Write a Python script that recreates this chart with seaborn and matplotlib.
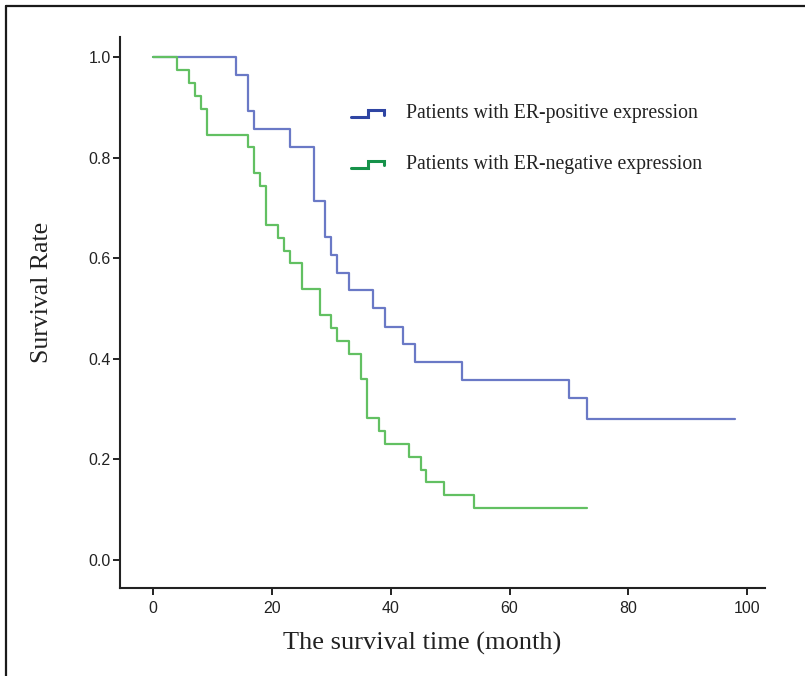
import numpy as np
import pandas as pd
import matplotlib
matplotlib.use("Agg")
import matplotlib.pyplot as plt
from matplotlib.lines import Line2D
from matplotlib.legend_handler import HandlerBase
import seaborn as sns

# ---- data ----
pos_time = [0, 14, 16, 17, 23, 27, 29, 30, 31, 33, 37, 39, 42, 44, 52, 70, 73, 98]
pos_surv = [1.0, 0.964, 0.893, 0.857, 0.821, 0.714, 0.643, 0.607, 0.571, 0.536,
            0.500, 0.464, 0.429, 0.393, 0.357, 0.321, 0.280, 0.280]

neg_time = [0, 4, 6, 7, 8, 9, 16, 17, 18, 19, 21, 22, 23, 25, 28, 30, 31, 33,
            35, 36, 38, 39, 43, 45, 46, 49, 54, 73]
neg_surv = [1.0, 0.974, 0.949, 0.923, 0.897, 0.846, 0.821, 0.769, 0.744, 0.667,
            0.641, 0.615, 0.590, 0.538, 0.487, 0.462, 0.436, 0.410, 0.359, 0.282,
            0.256, 0.231, 0.205, 0.179, 0.154, 0.128, 0.103, 0.103]

groups = ["Patients with ER-positive expression", "Patients with ER-negative expression"]
x_ticks = [0, 20, 40, 60, 80, 100]
y_ticks = [0.0, 0.2, 0.4, 0.6, 0.8, 1.0]

line_colors = {groups[0]: "#6a79c6", groups[1]: "#62c062"}
legend_colors = {groups[0]: "#2f45a3", groups[1]: "#16924a"}

df = pd.concat([
    pd.DataFrame({"time": pos_time, "surv": pos_surv, "group": groups[0]}),
    pd.DataFrame({"time": neg_time, "surv": neg_surv, "group": groups[1]}),
])

# ---- style ----
sns.set_style("ticks")
plt.rcParams["font.family"] = ["Liberation Sans", "DejaVu Sans"]


class StepHandler(HandlerBase):
    # little step glyph like the SPSS legend
    def create_artists(self, legend, orig_handle, xdescent, ydescent,
                       width, height, fontsize, trans):
        x0 = -xdescent
        y0 = -ydescent + height * 0.05
        h = height * 0.5
        xs = [x0, x0 + width * 0.5, x0 + width * 0.5, x0 + width, x0 + width]
        ys = [y0, y0, y0 + h, y0 + h, y0 + h * 0.35]
        ln = Line2D(xs, ys, color=orig_handle.get_color(), lw=2.2,
                    solid_joinstyle="miter", transform=trans)
        return [ln]


fig = plt.figure(figsize=(8.05, 6.76), dpi=100)
ax = fig.add_axes([120 / 805, 1 - 588 / 676, 645 / 805, 551 / 676])

sns.lineplot(data=df, x="time", y="surv", hue="group", palette=line_colors,
             estimator=None, drawstyle="steps-post", linewidth=1.6,
             legend=False, ax=ax)

ax.set_xlim(-5.6, 103)
ax.set_ylim(-0.056, 1.04)
ax.set_xticks(x_ticks)
ax.set_yticks(y_ticks)
ax.set_xticklabels([str(t) for t in x_ticks])
ax.set_yticklabels([f"{t:.1f}" for t in y_ticks])
ax.tick_params(direction="out", length=5, width=1.4, labelsize=11.5,
               colors="#222222")
ax.tick_params(axis="y", pad=1.5)
ax.tick_params(axis="x", pad=4.5)
for s in ["top", "right"]:
    ax.spines[s].set_visible(False)
for s in ["left", "bottom"]:
    ax.spines[s].set_linewidth(1.5)
    ax.spines[s].set_color("#222222")

ax.set_xlabel("The survival time (month)", family=["Liberation Serif"],
              fontsize=19, color="#222222", va="center")
ax.set_ylabel("Survival Rate", family=["Liberation Serif"],
              fontsize=18.5, color="#222222", va="center")
ax.xaxis.set_label_coords((422 - 120) / 645, (588 - 643) / 551)
ax.yaxis.set_label_coords((42 - 120) / 645, (588 - 292) / 551)

handles = [Line2D([], [], color=legend_colors[g]) for g in groups]
fig.legend(handles, groups, loc="upper left",
           bbox_to_anchor=(351 / 805, 1 - 104 / 676),
           bbox_transform=fig.transFigure, frameon=False,
           handler_map={Line2D: StepHandler()},
           prop={"family": "Liberation Serif", "size": 14.2},
           handlelength=1.68, handletextpad=1.1, labelspacing=1.6,
           borderpad=0, borderaxespad=0, labelcolor="#222222")

# frame lines of the cropped figure (left and top only)
fig.add_artist(Line2D([6 / 805, 6 / 805], [0, 1 - 6 / 676],
                      transform=fig.transFigure, color="#1a1a1a", lw=1.6))
fig.add_artist(Line2D([6 / 805, 1], [1 - 6 / 676, 1 - 6 / 676],
                      transform=fig.transFigure, color="#1a1a1a", lw=1.6))

fig.savefig("out.png", dpi=100)
